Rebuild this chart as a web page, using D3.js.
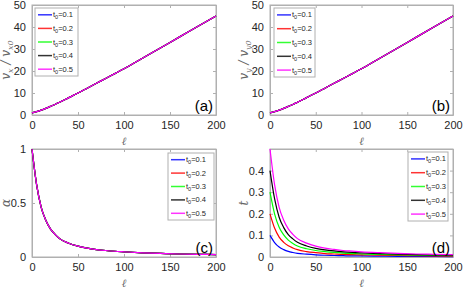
<!DOCTYPE html>
<html>
<head>
<meta charset="utf-8">
<script src="https://cdn.jsdelivr.net/npm/d3@7"></script>
<style>
  body { margin: 0; background: #fff; }
  svg { display: block; font-family: "Liberation Sans", Arial, sans-serif; }
</style>
</head>
<body>
<div id="plot-container"></div>
<script>
// sample positions along ell
const ell = [0, 5, 10, 15, 20, 25, 30, 40, 50, 60, 70, 80, 90, 100, 120, 140, 160, 180, 200];

// velocity ratio, identical for every t0 (curves coincide)
const vRatio = [1, 1.5, 2.2, 3.0, 3.9, 4.8, 5.8, 7.9, 10.0, 12.2, 14.4, 16.6, 18.8, 21.0, 25.8, 30.6, 35.4, 40.2, 45.0];
// alpha, also identical for every t0
const alphaVals = [1, 0.67, 0.46, 0.34, 0.26, 0.21, 0.17, 0.127, 0.1, 0.082, 0.069, 0.06, 0.053, 0.048, 0.039, 0.033, 0.028, 0.025, 0.022];

// t for each t0
const t01 = [0.1, 0.067, 0.046, 0.034, 0.026, 0.021, 0.017, 0.013, 0.010, 0.008, 0.007, 0.006, 0.005, 0.005, 0.004, 0.003, 0.003, 0.0025, 0.002];
const t02 = [0.2, 0.134, 0.092, 0.068, 0.052, 0.042, 0.034, 0.025, 0.020, 0.016, 0.014, 0.012, 0.011, 0.010, 0.008, 0.007, 0.006, 0.005, 0.004];
const t03 = [0.3, 0.20, 0.138, 0.102, 0.078, 0.063, 0.051, 0.038, 0.030, 0.025, 0.021, 0.018, 0.016, 0.014, 0.012, 0.010, 0.008, 0.0075, 0.0066];
const t04 = [0.4, 0.27, 0.184, 0.136, 0.104, 0.084, 0.068, 0.051, 0.040, 0.033, 0.028, 0.024, 0.021, 0.019, 0.016, 0.013, 0.011, 0.010, 0.009];
const t05 = [0.5, 0.335, 0.23, 0.17, 0.13, 0.105, 0.085, 0.064, 0.050, 0.041, 0.035, 0.030, 0.027, 0.024, 0.020, 0.017, 0.014, 0.0125, 0.011];

const t0Labels = ["0.1", "0.2", "0.3", "0.4", "0.5"];
const colors = ["#0000ff", "#ff0000", "#00ff00", "#000000", "#ff00ff"];

const xTicks = [0, 50, 100, 150, 200];
const vTicks = [0, 10, 20, 30, 40, 50];
const alphaTicks = [0, 0.5, 1];
const tTicks = [0, 0.1, 0.2, 0.3, 0.4];

const W = 464, H = 290;
const svg = d3.select("#plot-container").append("svg")
  .attr("width", W).attr("height", H);

const axisColor = "#b0b0b0";
const textColor = "#262626";

// panel layouts: plot rect + legend box
const panels = [
  { box: [32, 5, 216, 115], yDomain: [0, 50], yTicks: vTicks, series: [vRatio, vRatio, vRatio, vRatio, vRatio],
    tag: "(a)", yLabel: "x", legend: [35, 8, 78, 76] },
  { box: [270, 5, 453, 115], yDomain: [0, 50], yTicks: vTicks, series: [vRatio, vRatio, vRatio, vRatio, vRatio],
    tag: "(b)", yLabel: "y", legend: [274, 8, 315, 77] },
  { box: [32, 149, 216, 257], yDomain: [0, 1], yTicks: alphaTicks, series: [alphaVals, alphaVals, alphaVals, alphaVals, alphaVals],
    tag: "(c)", yLabel: "alpha", legend: [168, 153, 214, 220] },
  { box: [270, 149, 453, 257], yDomain: [0, 0.5], yTicks: tTicks, series: [t01, t02, t03, t04, t05],
    tag: "(d)", yLabel: "t", legend: [408, 152, 448, 221] }
];

panels.forEach(p => {
  const [x0, y0, x1, y1] = p.box;
  const xScale = d3.scaleLinear().domain([0, 200]).range([x0, x1]);
  const yScale = d3.scaleLinear().domain(p.yDomain).range([y1, y0]);
  const g = svg.append("g");

  // frame
  g.append("rect")
    .attr("x", x0).attr("y", y0).attr("width", x1 - x0).attr("height", y1 - y0)
    .attr("fill", "none").attr("stroke", axisColor).attr("stroke-width", 1);

  // axes, ticks inward on all four sides
  const bottom = g.append("g").attr("transform", `translate(0,${y1})`)
    .call(d3.axisBottom(xScale).tickValues(xTicks).tickSizeInner(-3).tickSizeOuter(0).tickPadding(6));
  const top = g.append("g").attr("transform", `translate(0,${y0})`)
    .call(d3.axisTop(xScale).tickValues(xTicks).tickSizeInner(-3).tickSizeOuter(0).tickFormat(""));
  const left = g.append("g").attr("transform", `translate(${x0},0)`)
    .call(d3.axisLeft(yScale).tickValues(p.yTicks).tickSizeInner(-3).tickSizeOuter(0).tickPadding(6)
      .tickFormat(d3.format("~g")));
  const right = g.append("g").attr("transform", `translate(${x1},0)`)
    .call(d3.axisRight(yScale).tickValues(p.yTicks).tickSizeInner(-3).tickSizeOuter(0).tickFormat(""));
  [bottom, top, left, right].forEach(a => {
    a.select(".domain").attr("stroke", axisColor);
    a.selectAll("line").attr("stroke", axisColor);
    a.selectAll("text").attr("fill", textColor).attr("font-size", 11)
      .attr("font-family", "Liberation Sans, Arial, sans-serif");
  });

  // curves
  const line = d3.line()
    .x((d, i) => xScale(ell[i]))
    .y(d => yScale(d))
    .curve(d3.curveMonotoneX);
  p.series.forEach((s, k) => {
    g.append("path")
      .attr("d", line(s))
      .attr("fill", "none")
      .attr("stroke", colors[k])
      .attr("stroke-width", 1.2);
  });

  // panel tag
  g.append("text")
    .attr("x", x1 - 3).attr("y", y1 - 4)
    .attr("text-anchor", "end")
    .attr("font-size", 15)
    .attr("fill", "#000")
    .text(p.tag);

  // x label
  g.append("text")
    .attr("x", (x0 + x1) / 2).attr("y", y1 + 30)
    .attr("text-anchor", "middle")
    .attr("font-family", "DejaVu Serif, serif")
    .attr("font-style", "italic")
    .attr("font-size", 11)
    .attr("fill", "#666")
    .text("ℓ");

  // y label
  const yl = g.append("text")
    .attr("transform", `translate(${x0 - 22},${(y0 + y1) / 2}) rotate(-90)`)
    .attr("text-anchor", "middle")
    .attr("font-family", "DejaVu Serif, serif")
    .attr("font-style", "italic")
    .attr("font-size", 12)
    .attr("fill", "#666");
  if (p.yLabel === "x" || p.yLabel === "y") {
    yl.append("tspan").text("v");
    yl.append("tspan").attr("font-size", 8).attr("dy", 3).text(p.yLabel);
    yl.append("tspan").attr("dy", -3).text(" / v");
    yl.append("tspan").attr("font-size", 8).attr("dy", 3).text(p.yLabel + "0");
  } else if (p.yLabel === "alpha") {
    yl.text("α");
  } else {
    yl.text("t");
  }

  // legend
  const [lx0, ly0, lx1, ly1] = p.legend;
  g.append("rect")
    .attr("x", lx0).attr("y", ly0).attr("width", lx1 - lx0).attr("height", ly1 - ly0)
    .attr("fill", "#fff").attr("stroke", axisColor).attr("stroke-width", 1);
  const step = (ly1 - ly0) / t0Labels.length;
  t0Labels.forEach((lab, k) => {
    const cy = ly0 + step * (k + 0.5);
    g.append("line")
      .attr("x1", lx0 + 3).attr("x2", lx0 + 17)
      .attr("y1", cy).attr("y2", cy)
      .attr("stroke", colors[k]).attr("stroke-width", 1.5).attr("stroke-opacity", 0.8);
    const tx = g.append("text")
      .attr("x", lx0 + 18).attr("y", cy + 2.5)
      .attr("font-size", 7.5)
      .attr("fill", textColor);
    tx.append("tspan").text("t");
    tx.append("tspan").attr("font-size", 5.5).attr("dy", 2).text("0");
    tx.append("tspan").attr("dy", -2).text("=" + lab);
  });
});
</script>
</body>
</html>
